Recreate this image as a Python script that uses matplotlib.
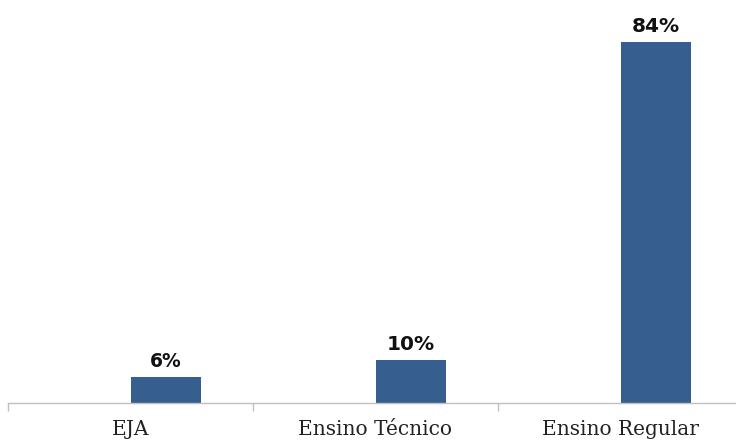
import matplotlib
matplotlib.use("Agg")
import matplotlib.pyplot as plt
import numpy as np

categories = ["EJA", "Ensino Técnico", "Ensino Regular"]
values = [6, 10, 84]
value_labels = ["6%", "10%", "84%"]

W, H = 736, 442
fig = plt.figure(figsize=(W / 100, H / 100), dpi=100)
px_per_unit = 4.3
base_y = 403
ymax = 90
ax_h = ymax * px_per_unit
ax = fig.add_axes([8 / W, (H - base_y) / H, (W - 8) / W, ax_h / H])

cat_w = 245.0
xmax = -0.5 + (W - 8) / cat_w
x = np.arange(len(categories))
offset = 0.145
bar_w = 70 / cat_w
color = "#365f8f"
ax.bar(x + offset, values, width=bar_w, color=color, zorder=2)

sizes = [13.5, 14.5, 14.5]
for xi, v, lab, s in zip(x, values, value_labels, sizes):
    ax.annotate(lab, (xi + offset, v), xytext=(0, 4.5), textcoords="offset points",
                ha="center", va="bottom", fontsize=s, fontweight="bold",
                family="DejaVu Sans", color="#111111")

ax.set_xlim(-0.5, xmax)
ax.set_ylim(0, ymax)
for sp in ["top", "right", "left"]:
    ax.spines[sp].set_visible(False)
ax.spines["bottom"].set_color("#c0c0c0")
ax.spines["bottom"].set_linewidth(1.0)
ax.set_yticks([])
ax.set_xticks(np.arange(-0.5, len(categories) - 0.5, 1.0))
ax.set_xticklabels([])
ax.set_xticks(x, minor=True)
ax.set_xticklabels(categories, minor=True, family="DejaVu Serif", fontsize=14.5, color="#222222")
ax.tick_params(axis="x", which="major", length=6, color="#c0c0c0", width=1.0)
ax.tick_params(axis="x", which="minor", length=0, pad=12)

fig.savefig("out.png", dpi=100)
